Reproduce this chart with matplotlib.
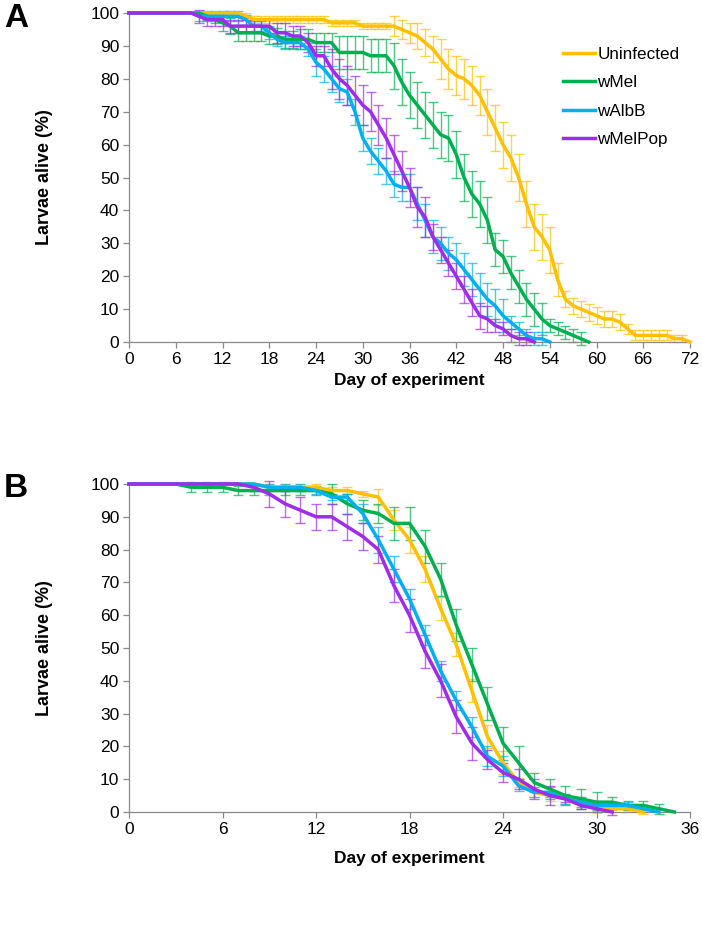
import numpy as np
import matplotlib
matplotlib.use('Agg')
import matplotlib.pyplot as plt

plt.rcParams['font.family'] = ['Liberation Sans', 'DejaVu Sans']

names = ['Uninfected', 'wMel', 'wAlbB', 'wMelPop']
colors = ['#FFC000', '#00B050', '#00B0F0', '#A02BE8']

# Panel A: % larvae alive per day (day 0 .. end of each series)
uninf_a = [100]*15 + [99] + [98]*10 + [97]*4 + [96]*5 + \
    [95, 94, 93, 91, 89, 86, 83, 81, 80, 78, 75, 70, 65, 60, 56, 50, 42, 35, 32, 28,
     19, 13, 11, 10, 9, 8, 7, 7, 6, 4] + [2]*5 + [1, 1, 0]
wmel_a = [100]*10 + [99, 98, 97, 96] + [94]*4 + [93]*2 + [92]*4 + [91]*3 + [88]*4 + [87]*3 + \
    [84, 79, 75, 72, 69, 66, 63, 62, 57, 50, 45, 42, 37, 28, 26, 21, 17, 13, 10, 7, 5, 4, 3, 2, 1, 0]
walbb_a = [100]*9 + [99]*6 + [98] + [96]*2 + [94, 92] + [91]*3 + \
    [89, 85, 83, 80, 77, 76, 70, 62, 58, 55, 52, 48, 47, 47, 42, 37, 32, 30, 27, 25, 22, 19,
     16, 13, 11, 8, 6, 4, 2, 1, 1, 0]
wpop_a = [100]*9 + [99] + [98]*3 + [96]*6 + [94]*2 + [93]*2 + [91] + [87]*2 + \
    [83, 80, 78, 75, 72, 70, 66, 62, 57, 52, 47, 41, 38, 32, 28, 24, 20, 16, 12, 8, 7, 5, 4, 2, 1, 1, 0]

err_uninf_a = [0]*15 + [1]*19 + [3]*3 + [4]*3 + [6]*6 + [7]*9 + [5] + [2.5]*8 + [1.5]*6 + [1, 1, 0]
err_wmel_a = [0]*10 + [1]*2 + [2.5]*10 + [3]*5 + [5]*7 + [7]*13 + [5]*7 + [2]*5 + [0]
err_walbb_a = [0]*9 + [1.5]*9 + [2]*6 + [4]*13 + [5]*12 + [2]*5 + [0]
err_wpop_a = [0]*9 + [2]*10 + [3]*7 + [6]*13 + [4]*8 + [2]*5 + [0]

# Panel B
uninf_b = [100]*9 + [99]*4 + [98]*2 + \
    [97, 96, 89, 83, 74, 62, 51, 37, 23, 15, 9, 6, 5, 4, 3, 2, 1, 1, 0]
wmel_b = [100]*4 + [99]*3 + [98]*6 + \
    [97, 94, 92, 91, 88, 88, 81, 71, 57, 45, 33, 21, 15, 9, 7, 5, 4, 3, 3, 2, 2, 1, 0]
walbb_b = [100]*9 + [99]*3 + [98] + [96]*2 + \
    [91, 83, 74, 65, 54, 43, 34, 26, 17, 14, 8, 6, 6, 4, 3, 2, 2, 2, 1, 0]
wpop_b = [100]*8 + \
    [99, 97, 94, 92, 90, 90, 87, 84, 80, 69, 60, 49, 40, 29, 21, 16, 12, 10, 7, 5, 4, 2, 1, 0]

err_uninf_b = [0]*9 + [1]*7 + [2.5, 3, 4, 4] + [3.5]*5 + [1.5]*6 + [0.5]*3
err_wmel_b = [0]*4 + [1.5]*9 + [3]*4 + [5]*9 + [3]*5 + [1.5]*4 + [0]
err_walbb_b = [0]*9 + [1]*6 + [3, 4, 4] + [3]*7 + [1.5]*6 + [1]*3 + [0]
err_wpop_b = [0]*8 + [1] + [4]*8 + [5]*6 + [3]*5 + [1]*4

W, H = 702, 927
fig = plt.figure(figsize=(W / 100, H / 100), dpi=100)
axA = fig.add_axes([129 / W, 1 - 342 / H, 561 / W, 329 / H])
axB = fig.add_axes([129 / W, 1 - 812 / H, 561 / W, 328 / H])


def draw(ax, series, errs, xmax):
    for name, vals, err, c in zip(names, series, errs, colors):
        vals = np.array(vals, dtype=float)
        err = np.array(err, dtype=float)
        d = np.arange(len(vals))
        m = err > 0
        ax.errorbar(d[m], vals[m], yerr=err[m], fmt='none', ecolor=c, alpha=0.7,
                    elinewidth=1.0, capsize=3.5, capthick=1.0, clip_on=False)
    for name, vals, c in zip(names, series, colors):
        ax.plot(np.arange(len(vals)), vals, color=c, lw=2.5, label=name,
                solid_joinstyle='round', clip_on=False, zorder=3)
    ax.set_xlim(0, xmax)
    ax.set_ylim(0, 100)
    ax.set_xticks(np.arange(0, xmax + 1, 6))
    ax.set_yticks(np.arange(0, 101, 10))
    for s in ['top', 'right']:
        ax.spines[s].set_visible(False)
    for s in ['left', 'bottom']:
        ax.spines[s].set_color('#888888')
        ax.spines[s].set_linewidth(0.9)
    ax.tick_params(colors='#888888', labelcolor='black', labelsize=12.5, length=4, width=0.9, pad=3)


draw(axA, [uninf_a, wmel_a, walbb_a, wpop_a],
     [err_uninf_a, err_wmel_a, err_walbb_a, err_wpop_a], 72)
draw(axB, [uninf_b, wmel_b, walbb_b, wpop_b],
     [err_uninf_b, err_wmel_b, err_walbb_b, err_wpop_b], 36)

# axis titles
for yc, xl in [(177, 381), (648, 858)]:
    fig.text(45 / W, 1 - yc / H, 'Larvae alive (%)', rotation=90, ha='center', va='center',
             fontsize=13, fontweight='bold')
    fig.text(409 / W, 1 - xl / H, 'Day of experiment', ha='center', va='center',
             fontsize=12.5, fontweight='bold')

axA.legend(loc='upper left', bbox_to_anchor=(563 / W, 1 - 47 / H), bbox_transform=fig.transFigure,
           frameon=False, fontsize=12.3, handlelength=1.9, handletextpad=0.1,
           labelspacing=0.78, borderpad=0, borderaxespad=0)

fig.text(4 / W, 1 - 3 / H, 'A', fontsize=24, fontweight='bold', va='top', ha='left')
fig.text(4 / W, 1 - 473 / H, 'B', fontsize=24, fontweight='bold', va='top', ha='left')

fig.savefig('out.png', dpi=100)
plt.close(fig)
